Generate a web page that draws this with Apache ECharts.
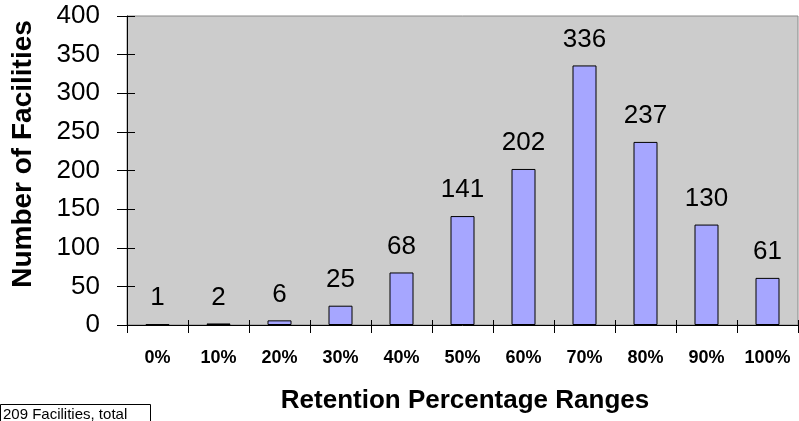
<!DOCTYPE html>
<html>
<head>
<meta charset="utf-8">
<script src="https://cdn.jsdelivr.net/npm/echarts@6/dist/echarts.min.js"></script>
<style>
  html, body { margin: 0; padding: 0; background: #fff; }
  #main { width: 799px; height: 421px; }
</style>
</head>
<body>
<div id="main"></div>
<script>
// 分類和數值
const categories = ['0%', '10%', '20%', '30%', '40%', '50%', '60%', '70%', '80%', '90%', '100%'];
const facilities = [1, 2, 6, 25, 68, 141, 202, 336, 237, 130, 61];
const yTicks = [0, 50, 100, 150, 200, 250, 300, 350, 400];

const chartDom = document.getElementById('main');
const myChart = echarts.init(chartDom);

const font = 'Liberation Sans, Arial, sans-serif';

const option = {
    animation: false,
    grid: {
        left: 127, right: 1, top: 16, bottom: 96,
        show: true,
        backgroundColor: '#cccccc',
        borderColor: '#888888',
        borderWidth: 1
    },
    xAxis: [
        {
            type: 'category',
            data: categories,
            axisLine: { lineStyle: { color: '#000', width: 1 } },
            axisTick: { show: true, length: 8, lineStyle: { color: '#000' } },
            axisLabel: { color: '#000', fontFamily: font, fontSize: 18, fontWeight: 'bold', margin: 24 }
        },
        {
            // 內側刻度
            type: 'category',
            data: categories,
            position: 'bottom',
            axisLine: { show: false },
            axisTick: { show: true, inside: true, length: 5, lineStyle: { color: '#000' } },
            axisLabel: { show: false }
        }
    ],
    yAxis: [
        {
            type: 'value',
            min: yTicks[0],
            max: yTicks[yTicks.length - 1],
            interval: 50,
            splitLine: { show: false },
            axisLine: { show: true, lineStyle: { color: '#000', width: 1 } },
            axisTick: { show: true, length: 10, lineStyle: { color: '#000' } },
            axisLabel: { color: '#000', fontFamily: font, fontSize: 26, margin: 27 }
        },
        {
            type: 'value',
            min: yTicks[0],
            max: yTicks[yTicks.length - 1],
            interval: 50,
            position: 'left',
            splitLine: { show: false },
            axisLine: { show: false },
            axisTick: { show: true, inside: true, length: 8, lineStyle: { color: '#000' } },
            axisLabel: { show: false }
        }
    ],
    series: [
        {
            type: 'bar',
            data: facilities,
            barWidth: 24,
            itemStyle: { color: '#a6a6ff', borderColor: '#000', borderWidth: 1 },
            label: {
                show: true,
                position: 'top',
                distance: 13,
                color: '#000',
                fontFamily: font,
                fontSize: 26
            }
        }
    ],
    graphic: [
        {
            type: 'text',
            x: 23, y: 154,
            rotation: Math.PI / 2,
            style: {
                text: 'Number of Facilities',
                x: 0, y: 0,
                fill: '#000',
                font: 'bold 28px ' + font,
                align: 'center',
                verticalAlign: 'middle'
            }
        },
        {
            type: 'text',
            x: 465, y: 401,
            style: {
                text: 'Retention Percentage Ranges',
                x: 0, y: 0,
                fill: '#000',
                font: 'bold 26px ' + font,
                align: 'center',
                verticalAlign: 'middle'
            }
        },
        {
            type: 'rect',
            shape: { x: 0.5, y: 404.5, width: 150, height: 30 },
            style: { fill: '#fff', stroke: '#000', lineWidth: 1 }
        },
        {
            type: 'text',
            x: 3, y: 407,
            style: {
                text: '209 Facilities, total',
                x: 0, y: 0,
                fill: '#000',
                font: '15px ' + font,
                align: 'left',
                verticalAlign: 'top'
            }
        }
    ]
};

option && myChart.setOption(option);
</script>
</body>
</html>
